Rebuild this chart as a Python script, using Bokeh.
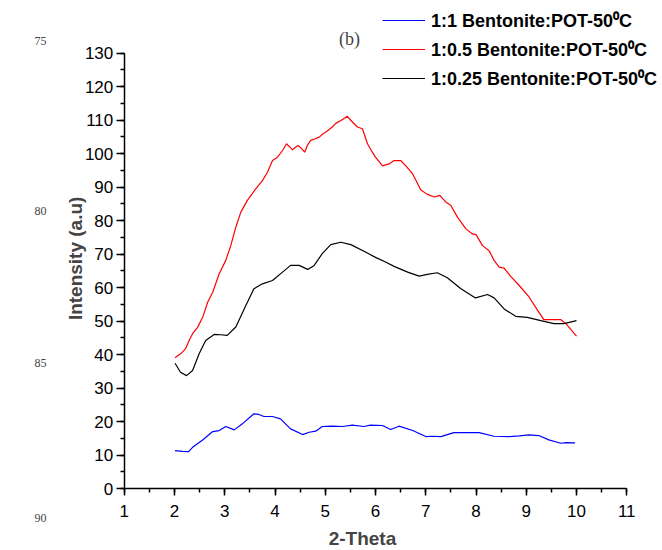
from bokeh.plotting import figure
from bokeh.models import (Range1d, SingleIntervalTicker, LinearAxis, Label,
                          Legend, LegendItem, ColumnDataSource)
from bokeh.embed import file_html
from bokeh.resources import INLINE

# ---------------- data ----------------
series_names = ["1:1 Bentonite:POT-50\u2070C",
                "1:0.5 Bentonite:POT-50\u2070C",
                "1:0.25 Bentonite:POT-50\u2070C"]
series_colors = ["#0000ff", "#ff0000", "#000000"]

blue_x = [2.01, 2.16, 2.28, 2.36, 2.56, 2.76, 2.89, 3.02, 3.19, 3.35, 3.58, 3.68,
          3.78, 3.95, 4.11, 4.31, 4.55, 4.68, 4.81, 4.94, 5.14, 5.34, 5.54, 5.77,
          5.90, 6.14, 6.30, 6.47, 6.74, 7.00, 7.13, 7.30, 7.56, 7.80, 8.06, 8.36,
          8.66, 8.86, 9.06, 9.25, 9.45, 9.69, 9.79, 9.97]
blue_y = [11.3, 11.1, 11.0, 12.3, 14.5, 17.0, 17.3, 18.5, 17.5, 19.3, 22.3, 22.1,
          21.5, 21.5, 20.8, 17.8, 16.1, 16.8, 17.1, 18.5, 18.6, 18.5, 18.9, 18.5,
          18.9, 18.8, 17.6, 18.6, 17.3, 15.5, 15.6, 15.5, 16.7, 16.7, 16.7, 15.6,
          15.5, 15.7, 16.0, 15.8, 14.5, 13.5, 13.7, 13.6]

red_x = [2.01, 2.12, 2.22, 2.30, 2.36, 2.46, 2.56, 2.66, 2.76, 2.89, 3.02, 3.12,
         3.22, 3.32, 3.45, 3.62, 3.75, 3.85, 3.95, 4.05, 4.15, 4.23, 4.29, 4.35,
         4.40, 4.46, 4.52, 4.59, 4.65, 4.71, 4.80, 4.88, 4.95, 5.04, 5.14, 5.21,
         5.32, 5.44, 5.54, 5.64, 5.74, 5.84, 5.92, 6.00, 6.14, 6.27, 6.37, 6.50,
         6.60, 6.74, 6.90, 7.03, 7.17, 7.28, 7.40, 7.50, 7.63, 7.80, 7.93, 8.00,
         8.13, 8.26, 8.36, 8.46, 8.56, 8.69, 8.86, 9.06, 9.22, 9.35, 9.52, 9.69,
         9.79, 9.89, 10.0]
red_y = [39.0, 40.2, 41.7, 44.5, 46.2, 48.1, 51.1, 55.6, 58.6, 64.1, 68.1, 72.5,
         78.0, 82.5, 86.0, 89.5, 91.9, 94.4, 97.9, 98.9, 100.9, 102.9, 102.0, 101.1,
         101.8, 102.4, 101.6, 100.4, 102.6, 103.9, 104.4, 104.9, 105.8, 106.7, 107.9, 109.0,
         109.9, 111.1, 109.4, 107.9, 107.4, 102.9, 100.8, 98.9, 96.3, 96.9, 97.9, 97.9,
         96.4, 93.9, 89.2, 87.8, 87.0, 87.5, 85.5, 84.5, 81.0, 77.5, 76.0, 75.8,
         72.5, 71.0, 68.1, 66.1, 65.8, 63.3, 60.6, 57.1, 53.3, 50.4, 50.4, 50.4,
         49.2, 47.4, 45.5]

black_x = [2.01, 2.12, 2.24, 2.36, 2.49, 2.62, 2.79, 2.92, 3.05, 3.22, 3.42, 3.58,
           3.75, 3.95, 4.15, 4.31, 4.48, 4.65, 4.78, 4.94, 5.11, 5.31, 5.51, 5.81,
           6.00, 6.20, 6.37, 6.64, 6.87, 7.03, 7.23, 7.43, 7.70, 7.99, 8.23, 8.36,
           8.56, 8.79, 9.02, 9.29, 9.55, 9.75, 10.0]
black_y = [37.4, 34.7, 33.7, 35.2, 40.2, 44.2, 46.0, 45.9, 45.7, 48.2, 54.6, 59.6,
           61.1, 62.1, 64.6, 66.6, 66.6, 65.4, 66.6, 70.1, 72.8, 73.5, 72.8, 70.5,
           69.0, 67.6, 66.3, 64.6, 63.4, 63.9, 64.4, 62.9, 59.6, 56.9, 57.9, 56.9,
           53.6, 51.4, 51.1, 50.1, 49.2, 49.2, 50.1]

x_bounds = (1, 11)
y_bounds = (0, 130)
line_numbers = ["75", "80", "85", "90"]
line_number_y = [133.7, 82.7, 37.6, -8.7]

# ---------------- layout ----------------
W, H = 660, 548
X0_PX, Y0_PX = 123.75, 488.0      # pixel position of x=1, y=0
PX_X, PX_Y = 50.25, 3.35          # pixels per data unit
x_start = 1 - X0_PX / PX_X
y_start = -(H - Y0_PX) / PX_Y

p = figure(width=W, height=H, output_backend="svg", toolbar_location=None,
           title=None,
           x_range=Range1d(x_start, x_start + W / PX_X),
           y_range=Range1d(y_start, y_start + H / PX_Y),
           x_axis_type=None, y_axis_type=None,
           min_border=0, min_border_left=0, min_border_right=0,
           min_border_top=0, min_border_bottom=0)
p.outline_line_color = None
p.background_fill_color = "white"
p.border_fill_color = "white"

def style_axis(ax, tick_out, standoff):
    ax.axis_line_width = 1.5
    ax.axis_line_color = "black"
    ax.major_tick_in = 0
    ax.major_tick_out = tick_out
    ax.minor_tick_in = 0
    ax.minor_tick_out = 4
    ax.major_tick_line_width = 1.5
    ax.minor_tick_line_width = 1.5
    ax.major_tick_line_color = "black"
    ax.minor_tick_line_color = "black"
    ax.major_label_text_font = "Liberation Sans"
    ax.major_label_text_font_size = "17px"
    ax.major_label_text_color = "black"
    ax.major_label_standoff = standoff

xaxis = LinearAxis(ticker=SingleIntervalTicker(interval=1, num_minor_ticks=2),
                   bounds=x_bounds, fixed_location=0)
style_axis(xaxis, 7, 9)
yaxis = LinearAxis(ticker=SingleIntervalTicker(interval=10, num_minor_ticks=2),
                   bounds=y_bounds, fixed_location=1)
style_axis(yaxis, 8, 3)
p.add_layout(xaxis, "below")
p.add_layout(yaxis, "left")

src = ColumnDataSource(dict(xs=[blue_x, red_x, black_x],
                            ys=[blue_y, red_y, black_y],
                            color=series_colors, name=series_names))
ml = p.multi_line(xs="xs", ys="ys", line_color="color", line_width=1.2,
                  source=src)

legend = Legend(items=[LegendItem(label=n, renderers=[ml], index=i)
                       for i, n in enumerate(series_names)],
                location=(382, H - 91), padding=0, spacing=3, margin=0,
                label_height=26, glyph_height=26, glyph_width=43,
                label_standoff=6, border_line_color=None,
                background_fill_alpha=0,
                label_text_font="Liberation Sans", label_text_font_style="bold",
                label_text_font_size="18px", label_text_color="black")
p.add_layout(legend)

# axis titles
p.add_layout(Label(x=5.741, y=-14.9, text="2-Theta", text_font="Liberation Sans",
                   text_font_style="bold", text_font_size="19px",
                   text_align="center", text_baseline="middle"))
p.add_layout(Label(x=0.03, y=68.7, text="Intensity (a.u)", angle=1.5708,
                   text_font="Liberation Sans", text_font_style="bold",
                   text_font_size="19px", text_align="center",
                   text_baseline="middle"))
# panel tag
p.add_layout(Label(x=5.483, y=134.3, text="(b)", text_font="Liberation Serif",
                   text_font_size="18px", text_align="center",
                   text_baseline="middle"))
# manuscript line numbers
for t, yy in zip(line_numbers, line_number_y):
    p.add_layout(Label(x=-0.667, y=yy, text=t, text_font="Liberation Serif",
                       text_font_size="12px", text_align="center",
                       text_baseline="middle"))

open("out.html", "w").write(file_html(p, INLINE))
